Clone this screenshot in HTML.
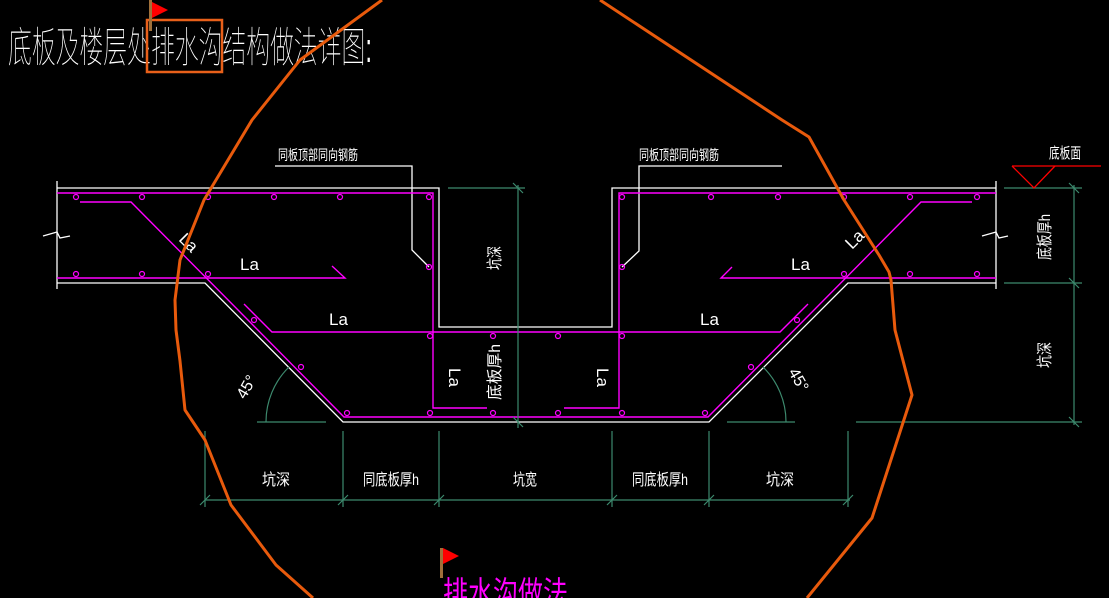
<!DOCTYPE html>
<html><head><meta charset="utf-8"><style>
html,body{margin:0;padding:0;background:#000;width:1109px;height:598px;overflow:hidden}
svg{display:block}
text{font-family:"Liberation Sans","Noto Sans CJK SC",sans-serif}
</style></head><body>
<svg width="1109" height="598" viewBox="0 0 1109 598" xmlns="http://www.w3.org/2000/svg">
<rect width="1109" height="598" fill="#000"/>
<!-- title -->
<text x="8" y="62" font-size="42" fill="#fff" textLength="364" lengthAdjust="spacingAndGlyphs" font-family="Liberation Sans, Noto Sans CJK SC, sans-serif" font-weight="100">底板及楼层处排水沟结构做法详图:</text>
<rect x="147" y="20" width="75" height="52" fill="none" stroke="#e8601a" stroke-width="2.5"/>
<rect x="149" y="0" width="3" height="31" fill="#a0703a"/>
<polygon points="152,2 168,10 152,18" fill="#f00"/>

<!-- white structure -->
<g stroke="#fff" stroke-width="1.3" fill="none">
<polyline points="57,188 439,188 439,327 612,327 612,188 996,188"/>
<polyline points="57,283 205,283 343,422 709,422 848,283 996,283"/>
<line x1="57" y1="181" x2="57" y2="289"/>
<polyline points="43,236 57,232 60,238 70,236"/>
<line x1="996" y1="181" x2="996" y2="289"/>
<polyline points="982,236 996,232 999,238 1008,236"/>
<polyline points="275,166 412,166 412,250 429,267"/>
<polyline points="782,166 639,166 639,251 622,267"/>
</g>
<text x="278" y="160" font-size="14" fill="#fff" textLength="80" lengthAdjust="spacingAndGlyphs">同板顶部同向钢筋</text>
<text x="639" y="160" font-size="14" fill="#fff" textLength="80" lengthAdjust="spacingAndGlyphs">同板顶部同向钢筋</text>

<!-- magenta rebars -->
<g stroke="#ff00ff" stroke-width="1.4" fill="none">
<polyline points="57,193 433,193 433,332"/>
<polyline points="996,193 619,193 619,408 564,408"/>
<polyline points="80,202 131,202 344,417 708,417 921,202 972,202"/>
<polyline points="57,278 345,278 332,266"/>
<polyline points="996,278 721,278 732,267"/>
<polyline points="244,304 272,332 780,332 808,304"/>
<polyline points="433,332 433,408 487,408"/>
</g>
<g stroke="#ff00ff" stroke-width="1.2" fill="none">
<circle cx="76" cy="197" r="2.5"/><circle cx="142" cy="197" r="2.5"/><circle cx="208" cy="197" r="2.5"/><circle cx="274" cy="197" r="2.5"/><circle cx="340" cy="197" r="2.5"/><circle cx="429" cy="197" r="2.5"/>
<circle cx="76" cy="274" r="2.5"/><circle cx="142" cy="274" r="2.5"/><circle cx="208" cy="274" r="2.5"/><circle cx="429" cy="267" r="2.5"/>
<circle cx="622" cy="197" r="2.5"/><circle cx="711" cy="197" r="2.5"/><circle cx="778" cy="197" r="2.5"/><circle cx="844" cy="197" r="2.5"/><circle cx="910" cy="197" r="2.5"/><circle cx="977" cy="197" r="2.5"/>
<circle cx="844" cy="274" r="2.5"/><circle cx="910" cy="274" r="2.5"/><circle cx="977" cy="274" r="2.5"/><circle cx="622" cy="267" r="2.5"/>
<circle cx="254" cy="320" r="2.5"/><circle cx="301" cy="367" r="2.5"/><circle cx="347" cy="413" r="2.5"/>
<circle cx="797" cy="320" r="2.5"/><circle cx="751" cy="367" r="2.5"/><circle cx="705" cy="413" r="2.5"/>
<circle cx="430" cy="336" r="2.5"/><circle cx="493" cy="336" r="2.5"/><circle cx="558" cy="336" r="2.5"/><circle cx="622" cy="336" r="2.5"/>
<circle cx="430" cy="413" r="2.5"/><circle cx="493" cy="413" r="2.5"/><circle cx="558" cy="413" r="2.5"/><circle cx="622" cy="413" r="2.5"/>
</g>

<!-- La labels -->
<g fill="#fff" font-size="17">
<text x="240" y="270">La</text>
<text x="329" y="325">La</text>
<text x="791" y="270">La</text>
<text x="700" y="325">La</text>
<text transform="translate(449,368) rotate(90)">La</text>
<text transform="translate(597,368) rotate(90)">La</text>
<text transform="translate(852,250) rotate(-45)">La</text>
<text transform="translate(178,240) rotate(45)">La</text>
<text transform="translate(245,400) rotate(-60)" font-size="16">45°</text>
<text transform="translate(788,372) rotate(60)" font-size="16">45°</text>
</g>

<!-- green dims -->
<g stroke="#3d8a6e" stroke-width="1.2" fill="none">
<line x1="448" y1="188" x2="525" y2="188"/>
<line x1="518" y1="185" x2="518" y2="428"/>
<line x1="1004" y1="188" x2="1082" y2="188"/>
<line x1="1004" y1="283" x2="1082" y2="283"/>
<line x1="856" y1="422" x2="1082" y2="422"/>
<line x1="1074" y1="185" x2="1074" y2="425"/>
<line x1="257" y1="422" x2="326" y2="422"/>
<line x1="727" y1="422" x2="795" y2="422"/>
<path d="M289,367 A77,77 0 0 0 266,422"/>
<path d="M763,367 A77,77 0 0 1 786,422"/>
<line x1="205" y1="500" x2="850" y2="500"/>
<line x1="205" y1="431" x2="205" y2="507"/>
<line x1="343" y1="431" x2="343" y2="507"/>
<line x1="439" y1="431" x2="439" y2="507"/>
<line x1="612" y1="431" x2="612" y2="507"/>
<line x1="709" y1="431" x2="709" y2="507"/>
<line x1="848" y1="431" x2="848" y2="507"/>
<path d="M200,505 l10,-10 M338,505 l10,-10 M434,505 l10,-10 M607,505 l10,-10 M704,505 l10,-10 M843,505 l10,-10 M513,183 l10,10 M513,417 l10,10 M1069,183 l10,10 M1069,278 l10,10 M1069,417 l10,10"/>
</g>
<g fill="#fff" font-size="16">
<text x="262" y="485" textLength="28" lengthAdjust="spacingAndGlyphs">坑深</text>
<text x="363" y="485" textLength="56" lengthAdjust="spacingAndGlyphs">同底板厚h</text>
<text x="513" y="485" textLength="24" lengthAdjust="spacingAndGlyphs">坑宽</text>
<text x="632" y="485" textLength="56" lengthAdjust="spacingAndGlyphs">同底板厚h</text>
<text x="766" y="485" textLength="28" lengthAdjust="spacingAndGlyphs">坑深</text>
<text transform="translate(500,400) rotate(-90)" textLength="56" lengthAdjust="spacingAndGlyphs">底板厚h</text>
<text transform="translate(500,270) rotate(-90)" textLength="24" lengthAdjust="spacingAndGlyphs">坑深</text>
<text transform="translate(1050,260) rotate(-90)" textLength="46" lengthAdjust="spacingAndGlyphs">底板厚h</text>
<text transform="translate(1050,368) rotate(-90)" textLength="26" lengthAdjust="spacingAndGlyphs">坑深</text>
<text x="1049" y="158" font-size="15" textLength="32" lengthAdjust="spacingAndGlyphs">底板面</text>
</g>
<g stroke="#f00" stroke-width="1.3" fill="none">
<line x1="1012" y1="166" x2="1101" y2="166"/>
<polyline points="1012,166 1034,188 1055,166"/>
</g>

<!-- orange cloud -->
<polyline fill="none" stroke="#e85a0c" stroke-width="3" stroke-linejoin="round"
points="382,0 300,60 252,120 204,200 180,260 175,300 176,330 180,361 185,410 205,440 231,505 276,565 313,598"/>
<polyline fill="none" stroke="#e85a0c" stroke-width="3" stroke-linejoin="round"
points="600,0 782,120 809,137 844,200 879,255 889,272 891,280 895,330 912,395 872,518 807,598"/>

<!-- bottom flag & label -->
<rect x="440" y="548" width="3" height="30" fill="#a0703a"/>
<polygon points="443,548 459,556 443,564" fill="#f00"/>
<text x="443" y="604" font-size="32" fill="#ff00ff" textLength="125" lengthAdjust="spacingAndGlyphs">排水沟做法</text>
</svg>
</body></html>
